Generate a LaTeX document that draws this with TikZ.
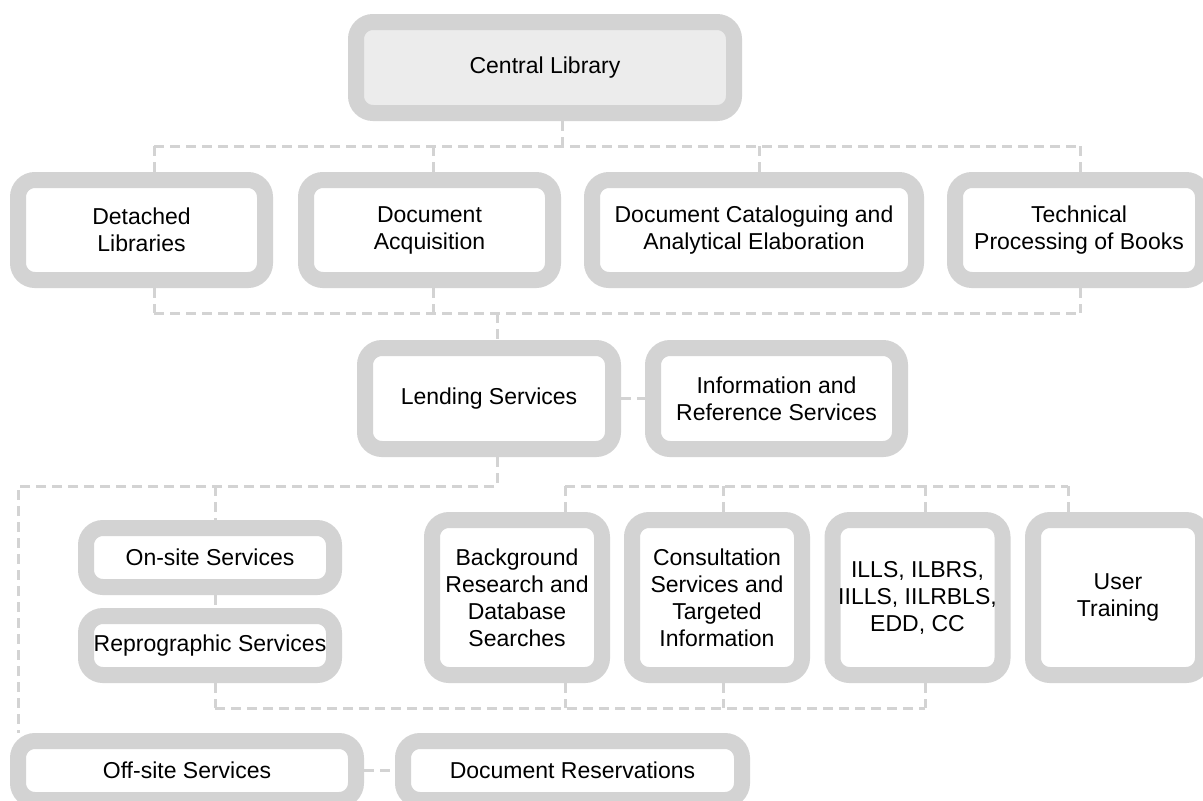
\documentclass[tikz,border=0pt]{standalone}
\usepackage{fontspec}
\setmainfont{Liberation Sans}
\definecolor{boxgray}{HTML}{D3D3D3}
\definecolor{topfill}{HTML}{ECECEC}

\begin{document}
\begin{tikzpicture}[x=0.5pt, y=-0.5pt,
    box/.style={draw=boxgray, line width=8pt, rounded corners=8.5pt, fill=white,
      align=center, inner sep=0pt, font=\fontsize{11.5}{13.5}\selectfont},
    link/.style={draw=boxgray, line width=1.5pt, dash pattern=on 5pt off 3pt}]
    \useasboundingbox (0,0) rectangle (1203,800);

    \node[box, fill=topfill, minimum width=189pt, minimum height=45.5pt] (cent) at (545,67.5) {Central Library};

    \node[box, minimum width=123.5pt, minimum height=50pt] (detached) at (141.5,230) {Detached\\Libraries};
    \node[box, minimum width=123.5pt, minimum height=50pt] (docacq) at (429.5,230) {Document\\Acquisition};
    \node[box, minimum width=162pt, minimum height=50pt] (catal) at (754,230) {Document Cataloguing and\\Analytical Elaboration};
    \node[box, minimum width=124pt, minimum height=50pt] (techn) at (1079,230) {Technical\\Processing of Books};

    \node[box, minimum width=124pt, minimum height=50.5pt] (lend) at (489,398.5) {Lending Services};
    \node[box, minimum width=123.5pt, minimum height=50.5pt] (info) at (776.5,398.5) {Information and\\Reference Services};

    \node[box, minimum width=124pt, minimum height=29.5pt] (onsite) at (210,557.5) {On-site Services};
    \node[box, minimum width=124pt, minimum height=29.5pt] (repro) at (210,645.5) {Reprographic Services};

    \node[box, minimum width=85pt, minimum height=77.5pt] (backg) at (517,597.5) {Background\\Research and\\Database\\Searches};
    \node[box, minimum width=85pt, minimum height=77.5pt] (consult) at (717,597.5) {Consultation\\Services and\\Targeted\\Information};
    \node[box, minimum width=85pt, minimum height=77.5pt] (ills) at (917.5,597.5) {ILLS, ILBRS,\\IILLS, IILRBLS,\\EDD, CC};
    \node[box, minimum width=85pt, minimum height=77.5pt] (usertr) at (1118,597.5) {User\\Training};

    \node[box, minimum width=169pt, minimum height=29.5pt] (offsite) at (187,770.5) {Off-site Services};
    \node[box, minimum width=169.5pt, minimum height=29.5pt] (docres) at (572.5,770.5) {Document Reservations};

    % central library to the four departments
    \coordinate (t1) at (154,146); \coordinate (t2) at (433,146);
    \coordinate (t3) at (562,146); \coordinate (t4) at (759,146);
    \coordinate (t5) at (1080,146);
    \draw[link] (t1) -- (t5);
    \draw[link] (cent.south -| t3) -- (t3);
    \draw[link] (t1) -- (t1 |- detached.north);
    \draw[link] (t2) -- (t2 |- docacq.north);
    \draw[link] (t4) -- (t4 |- catal.north);
    \draw[link] (t5) -- (t5 |- techn.north);

    % departments to lending
    \coordinate (m1) at (154,313); \coordinate (m2) at (433,313);
    \coordinate (m3) at (497,313); \coordinate (m4) at (1080,313);
    \draw[link] (m1) -- (m4);
    \draw[link] (detached.south -| m1) -- (m1);
    \draw[link] (docacq.south -| m2) -- (m2);
    \draw[link] (techn.south -| m4) -- (m4);
    \draw[link] (m3) -- (m3 |- lend.north);
    \draw[link] (lend) -- (info);

    % lending services branches
    \coordinate (l1) at (18,486); \coordinate (l2) at (215,486);
    \coordinate (l3) at (497,486);
    \draw[link] (lend.south -| l3) -- (l3) -- (l1) -- (l1 |- offsite.north);
    \draw[link] (l2) -- (l2 |- onsite.north);
    \draw[link] (onsite.south -| l2) -- (l2 |- repro.north);
    \draw[link] (offsite) -- (docres);

    % information services
    \coordinate (r1) at (565,486); \coordinate (r2) at (723,486);
    \coordinate (r3) at (925,486); \coordinate (r4) at (1068,486);
    \draw[link] (r1) -- (r4);
    \draw[link] (r1) -- (r1 |- backg.north);
    \draw[link] (r2) -- (r2 |- consult.north);
    \draw[link] (r3) -- (r3 |- ills.north);
    \draw[link] (r4) -- (r4 |- usertr.north);

    \coordinate (s1) at (215,708); \coordinate (s2) at (565,708);
    \coordinate (s3) at (723,708); \coordinate (s4) at (925,708);
    \draw[link] (s1) -- (s4);
    \draw[link] (repro.south -| s1) -- (s1);
    \draw[link] (backg.south -| s2) -- (s2);
    \draw[link] (consult.south -| s3) -- (s3);
    \draw[link] (ills.south -| s4) -- (s4);
  \end{tikzpicture}
\end{document}
